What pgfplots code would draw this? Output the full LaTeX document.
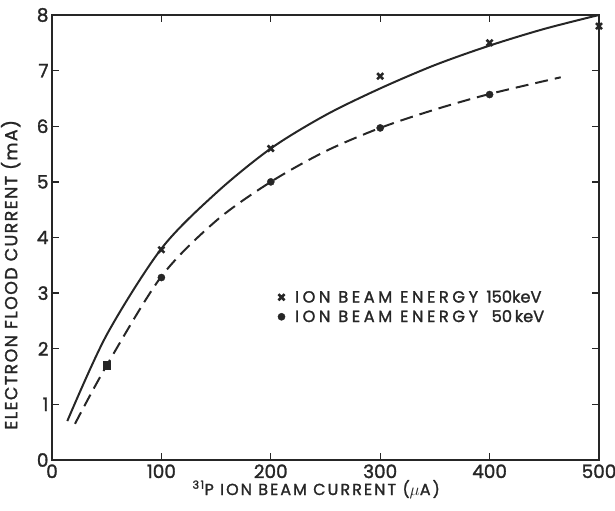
\documentclass[border=0pt]{standalone}
\usepackage{pgfplots}
\pgfplotsset{compat=1.18}
\usepackage{fontspec}
\setmainfont{Poppins}[FakeBold=1.5]
\newfontfamily\ylblfont{Poppins}[LetterSpace=8, FakeBold=1.5]
\newfontfamily\xlblfont{Poppins}[LetterSpace=13, FakeBold=1.5]
\newfontfamily\legfont{Poppins}[LetterSpace=22, FakeBold=1.5]
\newfontfamily\tickfont{Poppins}[FakeBold=1.5]
\definecolor{ink}{HTML}{262626}
\begin{document}
\begin{tikzpicture}
\begin{axis}[
  name=ax,
  scale only axis,
  width=547bp, height=445bp,
  xmin=0, xmax=500, ymin=0, ymax=8,
  xtick={0,100,...,500}, ytick={0,1,...,8},
  tick align=inside, major tick length=7bp,
  tick style={line width=1.3pt, color=ink},
  axis line style={line width=1.6pt, color=ink},
  /pgf/number format/assume math mode=true,
  ticklabel style={font=\tickfont\fontsize{18.5}{20}\selectfont, color=ink},
  xticklabel style={yshift=-1bp},
  xlabel={\xlblfont\fontsize{16}{18}\selectfont\textsuperscript{31}P ION BEAM CURRENT ($\mu$A)},
  ylabel={\ylblfont\fontsize{17.5}{19}\selectfont ELECTRON FLOOD CURRENT (mA)},
  label style={color=ink},
  ylabel style={at={(axis description cs:0,0.416)}, anchor=south, yshift=28bp},
  xlabel style={at={(axis description cs:0.483,0)}, anchor=base, yshift=-35bp},
  legend style={draw=none, fill=none, at={(axis cs:203.6,2.75)}, anchor=west,
    font=\legfont\fontsize{16.3}{18}\selectfont, text=ink, row sep=2bp,
    /tikz/every odd column/.append style={column sep=8bp}},
  legend cell align=left,
]
% solid curve (150 keV)
\addplot[ink, line width=2pt, smooth, forget plot] coordinates {
 (14,0.7) (50,2.25) (100,3.8) (150,4.8) (200,5.6) (250,6.2) (300,6.68) (350,7.1) (400,7.45) (450,7.75) (500,8.0)};
% dashed curve (50 keV)
\addplot[ink, line width=2pt, smooth, dash pattern=on 13bp off 7bp, forget plot] coordinates {
 (21,0.65) (50,1.7) (100,3.3) (150,4.3) (200,5.0) (250,5.55) (300,5.97) (350,6.3) (400,6.58) (465,6.88)};
\addplot[only marks, mark=x, mark size=4.3pt, ink, mark options={line width=2.6pt}] coordinates {
 (100,3.78) (200,5.6) (300,6.9) (400,7.5) (500,7.8)};
\addlegendentry{ION BEAM ENERGY\hspace{4bp}{\tickfont\makebox[30bp][r]{150}keV}}
\addplot[only marks, mark=*, mark size=3.6pt, ink] coordinates {
 (100,3.28) (200,5.0) (300,5.97) (400,6.57)};
\addlegendentry{ION BEAM ENERGY\hspace{4bp}{\tickfont\makebox[30bp][r]{50}\,keV}}
\addplot[only marks, mark=square*, mark size=4pt, ink, forget plot] coordinates {(50,1.7)};
\end{axis}
\pgfresetboundingbox
\useasboundingbox ([shift={(-52bp,-51bp)}]ax.south west) rectangle ([shift={(16bp,15bp)}]ax.north east);
\end{tikzpicture}
\end{document}
